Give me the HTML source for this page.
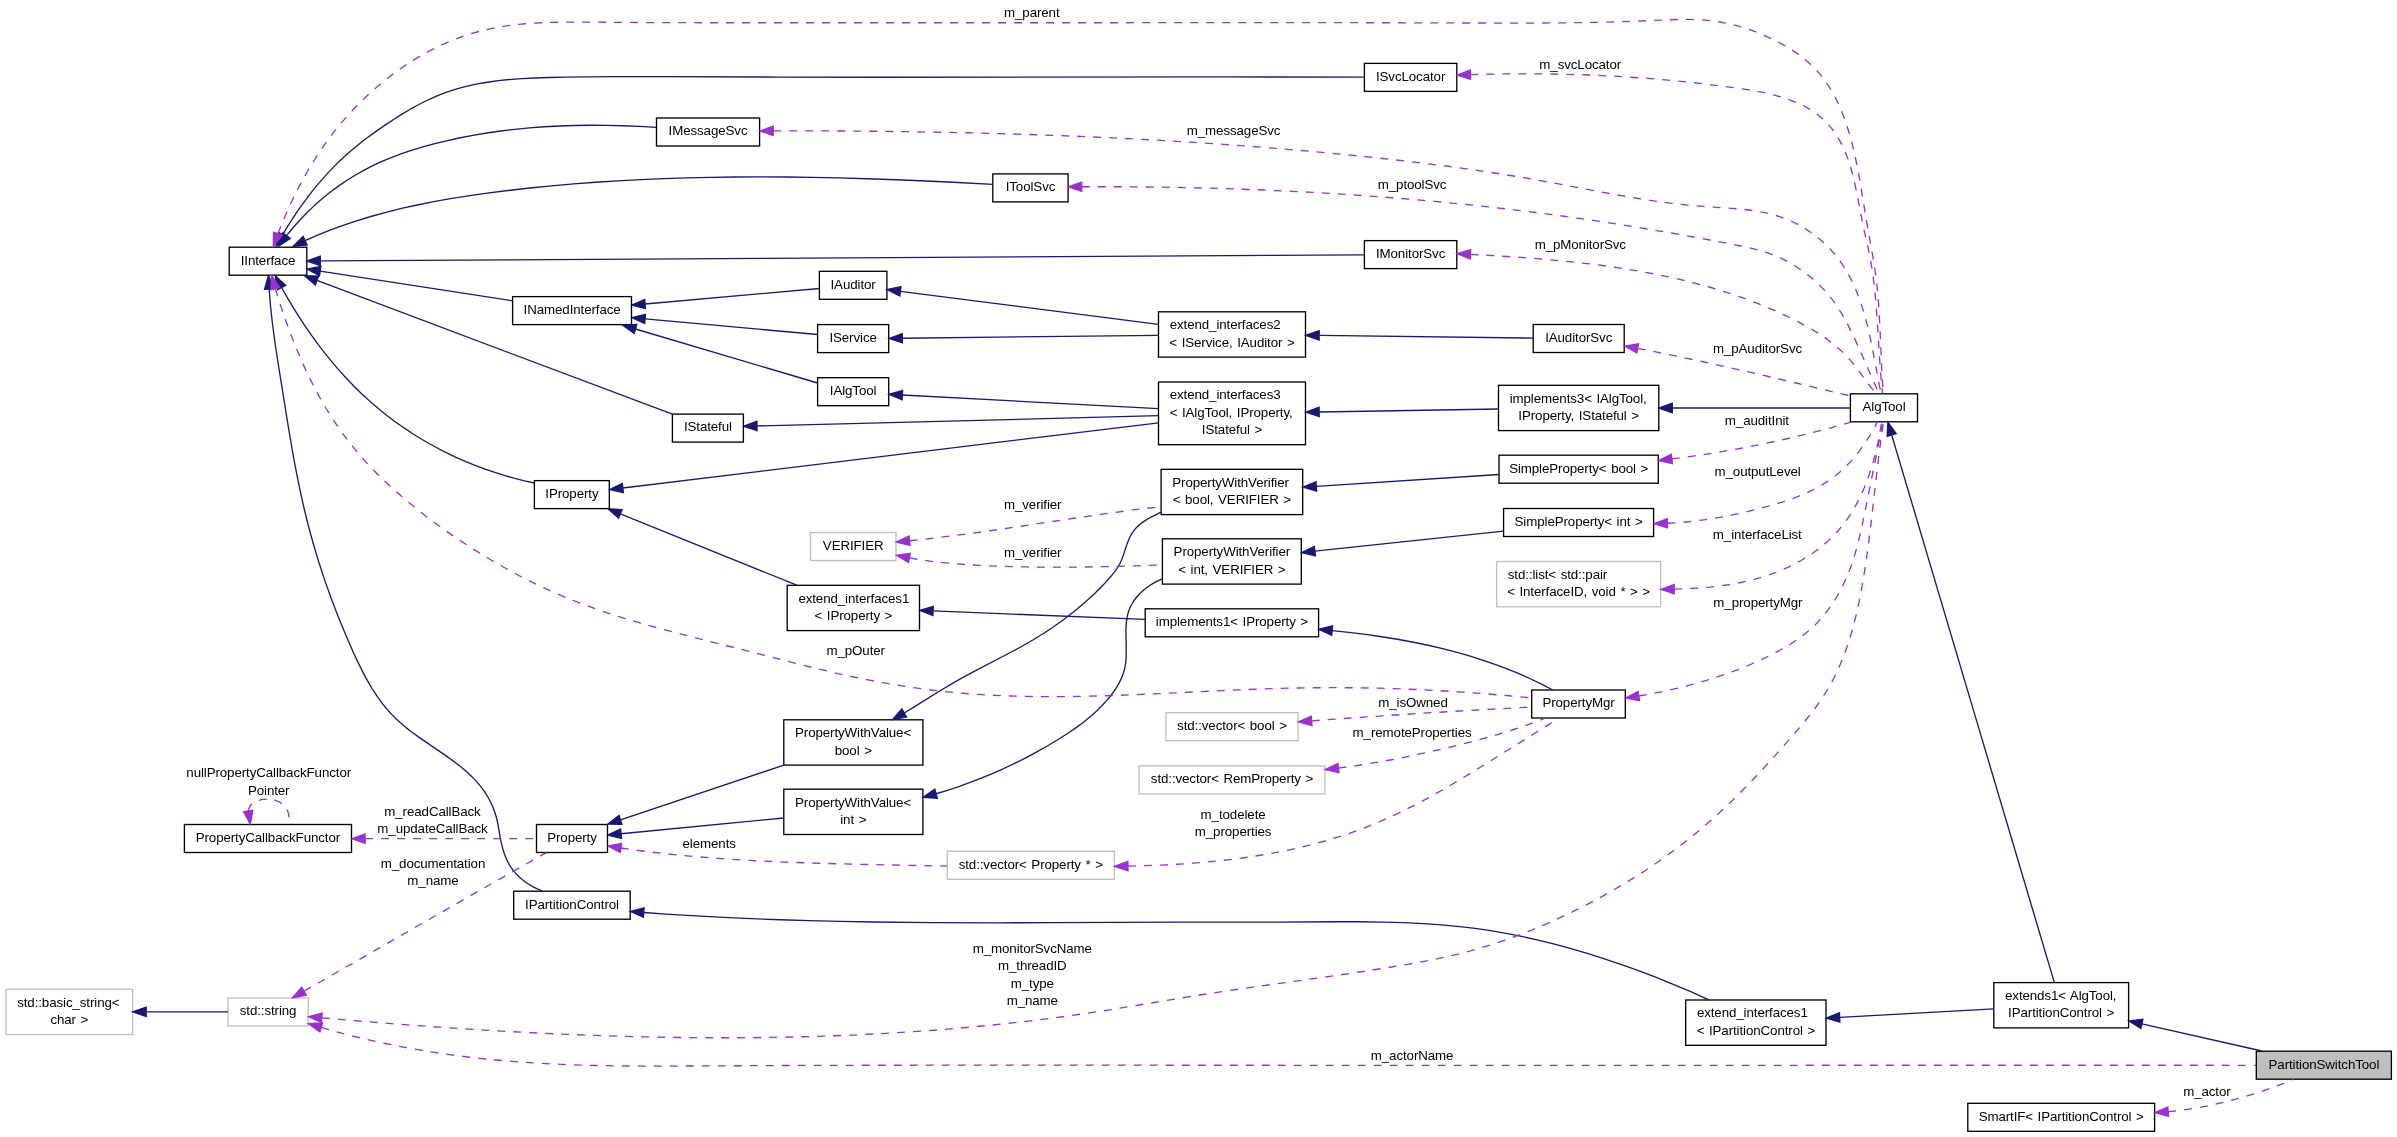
<!DOCTYPE html>
<html><head><meta charset="utf-8"><title>PartitionSwitchTool collaboration graph</title>
<style>html,body{margin:0;padding:0;background:#fff}svg{display:block}text{font-family:"Liberation Sans",sans-serif;font-size:13.333px;fill:#000;letter-spacing:-0.1px;word-spacing:1px}#labels,#nodes{filter:grayscale(1)}</style></head><body>
<svg width="2397" height="1137" viewBox="0 0 2397 1137">
<rect x="0" y="0" width="2397" height="1137" fill="#fff"/>
<g id="nodes">
<rect x="229.2" y="247.2" width="77.6" height="28" fill="#fff" stroke="#000" stroke-width="1.33"/>
<text x="268" y="264.5" text-anchor="middle">IInterface</text>
<rect x="656.5" y="118" width="103.1" height="28" fill="#fff" stroke="#000" stroke-width="1.33"/>
<text x="708" y="135.3" text-anchor="middle">IMessageSvc</text>
<rect x="512.6" y="296.6" width="118.9" height="28" fill="#fff" stroke="#000" stroke-width="1.33"/>
<text x="572.1" y="313.9" text-anchor="middle">INamedInterface</text>
<rect x="1364.4" y="63.4" width="92.4" height="28" fill="#fff" stroke="#000" stroke-width="1.33"/>
<text x="1410.6" y="80.7" text-anchor="middle">ISvcLocator</text>
<rect x="992.8" y="173.9" width="75.3" height="28" fill="#fff" stroke="#000" stroke-width="1.33"/>
<text x="1030.5" y="191.2" text-anchor="middle">IToolSvc</text>
<rect x="1364.4" y="240.6" width="92.4" height="28" fill="#fff" stroke="#000" stroke-width="1.33"/>
<text x="1410.6" y="257.9" text-anchor="middle">IMonitorSvc</text>
<rect x="819.4" y="271.3" width="67.5" height="28" fill="#fff" stroke="#000" stroke-width="1.33"/>
<text x="853.1" y="288.6" text-anchor="middle">IAuditor</text>
<rect x="817.6" y="324.6" width="71.1" height="28" fill="#fff" stroke="#000" stroke-width="1.33"/>
<text x="853.1" y="341.9" text-anchor="middle">IService</text>
<rect x="1158.5" y="311.8" width="147" height="45.3" fill="#fff" stroke="#000" stroke-width="1.33"/>
<text x="1169.7" y="329.1">extend_interfaces2</text>
<text x="1232" y="346.5" text-anchor="middle">&lt; IService, IAuditor &gt;</text>
<rect x="1533.2" y="324.5" width="91" height="28" fill="#fff" stroke="#000" stroke-width="1.33"/>
<text x="1578.7" y="341.8" text-anchor="middle">IAuditorSvc</text>
<rect x="1850.4" y="393.8" width="67.1" height="28" fill="#fff" stroke="#000" stroke-width="1.33"/>
<text x="1884" y="411.1" text-anchor="middle">AlgTool</text>
<rect x="672.4" y="414.1" width="71" height="28" fill="#fff" stroke="#000" stroke-width="1.33"/>
<text x="707.9" y="431.4" text-anchor="middle">IStateful</text>
<rect x="534.4" y="480.6" width="74.9" height="28" fill="#fff" stroke="#000" stroke-width="1.33"/>
<text x="571.9" y="497.9" text-anchor="middle">IProperty</text>
<rect x="817.6" y="377.7" width="71.1" height="28" fill="#fff" stroke="#000" stroke-width="1.33"/>
<text x="853.1" y="395" text-anchor="middle">IAlgTool</text>
<rect x="1158.5" y="382" width="147" height="62.7" fill="#fff" stroke="#000" stroke-width="1.33"/>
<text x="1169.7" y="399.3">extend_interfaces3</text>
<text x="1169.7" y="416.7">&lt; IAlgTool, IProperty,</text>
<text x="1232" y="434" text-anchor="middle"> IStateful &gt;</text>
<rect x="1498.5" y="385.3" width="160.3" height="45.3" fill="#fff" stroke="#000" stroke-width="1.33"/>
<text x="1509.7" y="402.6">implements3&lt; IAlgTool,</text>
<text x="1578.7" y="420" text-anchor="middle"> IProperty, IStateful &gt;</text>
<rect x="1161.1" y="469.3" width="141.6" height="45.3" fill="#fff" stroke="#000" stroke-width="1.33"/>
<text x="1172.3" y="486.6">PropertyWithVerifier</text>
<text x="1231.9" y="504" text-anchor="middle">&lt; bool, VERIFIER &gt;</text>
<rect x="1499" y="455.2" width="159.3" height="28" fill="#fff" stroke="#000" stroke-width="1.33"/>
<text x="1578.7" y="472.5" text-anchor="middle">SimpleProperty&lt; bool &gt;</text>
<rect x="1503.6" y="508.5" width="150" height="28" fill="#fff" stroke="#000" stroke-width="1.33"/>
<text x="1578.6" y="525.8" text-anchor="middle">SimpleProperty&lt; int &gt;</text>
<rect x="810.5" y="532.5" width="85.5" height="28" fill="#fff" stroke="#bfbfbf" stroke-width="1.33"/>
<text x="853.2" y="549.8" text-anchor="middle">VERIFIER</text>
<rect x="1162.4" y="538.8" width="138.9" height="45.3" fill="#fff" stroke="#000" stroke-width="1.33"/>
<text x="1173.6" y="556.1">PropertyWithVerifier</text>
<text x="1231.9" y="573.5" text-anchor="middle">&lt; int, VERIFIER &gt;</text>
<rect x="1496.6" y="561.5" width="164" height="45.3" fill="#fff" stroke="#bfbfbf" stroke-width="1.33"/>
<text x="1507.8" y="578.8">std::list&lt; std::pair</text>
<text x="1578.6" y="596.2" text-anchor="middle">&lt; InterfaceID, void * &gt; &gt;</text>
<rect x="787.2" y="585.3" width="132.3" height="45.3" fill="#fff" stroke="#000" stroke-width="1.33"/>
<text x="798.4" y="602.6">extend_interfaces1</text>
<text x="853.4" y="620" text-anchor="middle">&lt; IProperty &gt;</text>
<rect x="1145.2" y="608.8" width="173.4" height="28" fill="#fff" stroke="#000" stroke-width="1.33"/>
<text x="1231.9" y="626.1" text-anchor="middle">implements1&lt; IProperty &gt;</text>
<rect x="1531.7" y="690" width="93.6" height="28" fill="#fff" stroke="#000" stroke-width="1.33"/>
<text x="1578.5" y="707.3" text-anchor="middle">PropertyMgr</text>
<rect x="1165.9" y="712.6" width="132.2" height="28" fill="#fff" stroke="#bfbfbf" stroke-width="1.33"/>
<text x="1232" y="729.9" text-anchor="middle">std::vector&lt; bool &gt;</text>
<rect x="783.8" y="719.8" width="139.1" height="45.3" fill="#fff" stroke="#000" stroke-width="1.33"/>
<text x="795" y="737.1">PropertyWithValue&lt;</text>
<text x="853.3" y="754.5" text-anchor="middle"> bool &gt;</text>
<rect x="783.8" y="789.2" width="139.1" height="45.3" fill="#fff" stroke="#000" stroke-width="1.33"/>
<text x="795" y="806.5">PropertyWithValue&lt;</text>
<text x="853.3" y="823.9" text-anchor="middle"> int &gt;</text>
<rect x="184.4" y="824.5" width="167.1" height="28" fill="#fff" stroke="#000" stroke-width="1.33"/>
<text x="267.9" y="841.8" text-anchor="middle">PropertyCallbackFunctor</text>
<rect x="536.5" y="824.5" width="71" height="28" fill="#fff" stroke="#000" stroke-width="1.33"/>
<text x="572" y="841.8" text-anchor="middle">Property</text>
<rect x="513.7" y="891.2" width="116.5" height="28" fill="#fff" stroke="#000" stroke-width="1.33"/>
<text x="572" y="908.5" text-anchor="middle">IPartitionControl</text>
<rect x="6" y="989.3" width="126.6" height="45.3" fill="#fff" stroke="#bfbfbf" stroke-width="1.33"/>
<text x="17.2" y="1006.6">std::basic_string&lt;</text>
<text x="69.3" y="1024" text-anchor="middle"> char &gt;</text>
<rect x="228" y="998" width="80.2" height="28" fill="#fff" stroke="#bfbfbf" stroke-width="1.33"/>
<text x="268.1" y="1015.3" text-anchor="middle">std::string</text>
<rect x="1139.1" y="765.9" width="185.8" height="28" fill="#fff" stroke="#bfbfbf" stroke-width="1.33"/>
<text x="1232" y="783.2" text-anchor="middle">std::vector&lt; RemProperty &gt;</text>
<rect x="947.2" y="851.3" width="167.1" height="28" fill="#fff" stroke="#bfbfbf" stroke-width="1.33"/>
<text x="1030.8" y="868.6" text-anchor="middle">std::vector&lt; Property * &gt;</text>
<rect x="1685.7" y="1000" width="140.3" height="45.3" fill="#fff" stroke="#000" stroke-width="1.33"/>
<text x="1696.9" y="1017.3">extend_interfaces1</text>
<text x="1755.9" y="1034.7" text-anchor="middle">&lt; IPartitionControl &gt;</text>
<rect x="1993.8" y="982.6" width="134.8" height="45.3" fill="#fff" stroke="#000" stroke-width="1.33"/>
<text x="2005" y="999.9">extends1&lt; AlgTool,</text>
<text x="2061.2" y="1017.3" text-anchor="middle"> IPartitionControl &gt;</text>
<rect x="2256.3" y="1051.2" width="135.1" height="28" fill="#bfbfbf" stroke="#000" stroke-width="1.33"/>
<text x="2323.9" y="1068.5" text-anchor="middle">PartitionSwitchTool</text>
<rect x="1967.8" y="1103.3" width="186.8" height="28" fill="#fff" stroke="#000" stroke-width="1.33"/>
<text x="2061.2" y="1120.6" text-anchor="middle">SmartIF&lt; IPartitionControl &gt;</text>
</g><g id="edges">
<path d="M282.6,234.71L287.01,227.38L291.84,219.76L296.85,212.23L302.05,204.82L307.42,197.53L312.36,191.17L317.43,184.93L322.65,178.84L328.01,172.9L333.51,167.11L339.14,161.5L344.19,156.75L350.09,151.48L356.13,146.4L362.31,141.48L368.64,136.7L376.72,130.89L385.83,124.6L394.29,119.01L402.04,114.13L409.92,109.45L417.03,105.5L424.22,101.77L431.51,98.31L438.89,95.15L445.41,92.66L451.99,90.41L459.58,88.14L467.23,86.16L474.95,84.44L482.72,82.97L490.55,81.72L500.39,80.45L511.29,79.38L522.24,78.58L534.24,77.98L548.28,77.51L566.34,77.14L612.44,76.63L660.46,76.58L780.4,77.1L878.37,77.28L1225.42,76.95L1364.4,77.1" fill="none" stroke="#191970" stroke-width="1.33" stroke-linejoin="round"/>
<polygon points="276,246.3 286.7,237 278.5,232.4" fill="#191970" stroke="#191970" stroke-width="1.33"/>
<path d="M286.52,235.65L292.79,228.01L299.47,220.49L307.14,212.54L314.38,205.62L322.64,198.35L330.41,192.07L338.42,186.12L346.65,180.5L355.1,175.23L363.76,170.31L371.72,166.19L380.75,161.97L389.95,158.09L400.23,154.19L410.66,150.64L421.2,147.4L433.77,143.93L446.42,140.81L459.14,138L472.9,135.32L486.73,133L500.61,131L514.53,129.33L529.49,127.88L544.48,126.76L559.5,125.97L574.53,125.47L590.57,125.26L606.6,125.35L622.6,125.74L639.58,126.43L656.5,127.4" fill="none" stroke="#191970" stroke-width="1.33" stroke-linejoin="round"/>
<polygon points="278.5,246.3 290.3,238.5 282.8,232.8" fill="#191970" stroke="#191970" stroke-width="1.33"/>
<path d="M305.14,240.68L316.93,235.48L329.95,230.23L343.09,225.38L357.29,220.62L371.6,216.26L386.03,212.29L401.52,208.45L417.11,204.98L433.76,201.66L450.49,198.68L468.28,195.85L487.11,193.18L507.97,190.52L529.86,188.03L551.77,185.83L573.7,183.89L595.66,182.22L617.64,180.8L640.63,179.57L663.65,178.59L686.67,177.84L710.71,177.3L735.75,176.99L760.8,176.9L785.86,177.03L811.9,177.38L838.95,177.95L866.98,178.75L895.99,179.77L925.97,181.01L957.92,182.5L992.8,184.3" fill="none" stroke="#191970" stroke-width="1.33" stroke-linejoin="round"/>
<polygon points="293.1,246.4 307.1,244.9 303.1,236.5" fill="#191970" stroke="#191970" stroke-width="1.33"/>
<path d="M320.33,260.92L1364.4,254.8" fill="none" stroke="#191970" stroke-width="1.33" stroke-linejoin="round"/>
<polygon points="307,261 320.4,265.6 320.3,256.3" fill="#191970" stroke="#191970" stroke-width="1.33"/>
<path d="M320.18,271.04L512.6,300.8" fill="none" stroke="#191970" stroke-width="1.33" stroke-linejoin="round"/>
<polygon points="307,269 319.5,275.7 320.9,266.4" fill="#191970" stroke="#191970" stroke-width="1.33"/>
<path d="M316.98,280.49L672.4,414.2" fill="none" stroke="#191970" stroke-width="1.33" stroke-linejoin="round"/>
<polygon points="304.5,275.8 315.3,284.9 318.6,276.1" fill="#191970" stroke="#191970" stroke-width="1.33"/>
<path d="M281.56,287.52L287.31,297.63L292.97,307.1L299.37,317.31L305.46,326.54L311.76,335.64L318.28,344.58L325.01,353.36L331.32,361.17L337.82,368.82L344.51,376.29L351.39,383.58L358.46,390.66L365.73,397.53L372.44,403.53L380.08,409.97L387.9,416.18L395.9,422.17L404.07,427.92L412.41,433.44L420.9,438.71L429.54,443.75L438.32,448.54L447.24,453.09L457.2,457.81L466.38,461.83L475.67,465.6L485.07,469.12L495.52,472.69L505.12,475.66L514.81,478.38L524.57,480.82L534.4,483" fill="none" stroke="#191970" stroke-width="1.33" stroke-linejoin="round"/>
<polygon points="275.2,275.8 277.5,289.7 285.7,285.3" fill="#191970" stroke="#191970" stroke-width="1.33"/>
<path d="M269.17,289.12L269.71,296.89L270.5,305.87L272.46,323.75L275.12,343.53L278.74,367.21L287.63,422.6L292.69,452.29L295.4,467.09L298.1,480.86L300.76,493.61L303.59,506.3L308.1,524.74L313.07,543.03L318.5,561.18L324.7,580.15L331.06,598.04L338.23,616.76L345.88,635.35L353.59,652.92L358.73,663.9L363.26,672.91L367.57,680.86L372.15,688.61L377.03,696.11L381.67,702.54L386.6,708.72L391.87,714.61L396.06,718.82L400.44,722.85L405.79,727.36L411.32,731.69L421.99,739.4L448.03,757.17L454.55,761.91L460.86,766.82L466.91,771.95L471.94,776.66L476.67,781.62L480.45,786.1L484.52,791.62L488.18,797.49L490.07,801L491.38,803.71L492.99,807.41L494.09,810.23L495.99,816L497.26,820.9L498.24,825.85L500.62,839.77L501.7,844.66L502.7,848.52L504.18,853.25L505.57,856.94L507.58,861.41L509.45,864.87L512.15,869L515.27,872.91L518.82,876.56L522.72,879.94L526.9,883.03L532.19,886.31L536.75,888.66L542.3,891" fill="none" stroke="#191970" stroke-width="1.33" stroke-linejoin="round"/>
<polygon points="268.5,275.8 264.5,289.4 273.8,288.9" fill="#191970" stroke="#191970" stroke-width="1.33"/>
<path d="M645.08,304.02L819.4,288.5" fill="none" stroke="#191970" stroke-width="1.33" stroke-linejoin="round"/>
<polygon points="631.8,305.2 645.5,308.7 644.7,299.4" fill="#191970" stroke="#191970" stroke-width="1.33"/>
<path d="M645.08,318.9L817.6,334.5" fill="none" stroke="#191970" stroke-width="1.33" stroke-linejoin="round"/>
<polygon points="631.8,317.7 644.7,323.5 645.5,314.3" fill="#191970" stroke="#191970" stroke-width="1.33"/>
<path d="M635.48,328.99L817.6,383" fill="none" stroke="#191970" stroke-width="1.33" stroke-linejoin="round"/>
<polygon points="622.7,325.2 634.2,333.5 636.8,324.5" fill="#191970" stroke="#191970" stroke-width="1.33"/>
<path d="M900.42,291.3L1158.5,324.4" fill="none" stroke="#191970" stroke-width="1.33" stroke-linejoin="round"/>
<polygon points="887.2,289.6 899.8,295.9 901,286.7" fill="#191970" stroke="#191970" stroke-width="1.33"/>
<path d="M902.33,338.25L1158.5,335.3" fill="none" stroke="#191970" stroke-width="1.33" stroke-linejoin="round"/>
<polygon points="889,338.4 902.4,342.9 902.3,333.6" fill="#191970" stroke="#191970" stroke-width="1.33"/>
<path d="M1319.13,335.46L1533.2,338.1" fill="none" stroke="#191970" stroke-width="1.33" stroke-linejoin="round"/>
<polygon points="1305.8,335.3 1319.1,340.1 1319.2,330.8" fill="#191970" stroke="#191970" stroke-width="1.33"/>
<path d="M902.31,395.01L1158.5,408.7" fill="none" stroke="#191970" stroke-width="1.33" stroke-linejoin="round"/>
<polygon points="889,394.3 902.1,399.7 902.6,390.4" fill="#191970" stroke="#191970" stroke-width="1.33"/>
<path d="M757.03,425.96L1158.5,415.7" fill="none" stroke="#191970" stroke-width="1.33" stroke-linejoin="round"/>
<polygon points="743.7,426.3 757.1,430.6 756.9,421.3" fill="#191970" stroke="#191970" stroke-width="1.33"/>
<path d="M622.84,487.99L1158.5,422.8" fill="none" stroke="#191970" stroke-width="1.33" stroke-linejoin="round"/>
<polygon points="609.6,489.6 623.4,492.6 622.3,483.4" fill="#191970" stroke="#191970" stroke-width="1.33"/>
<path d="M1319.13,411.98L1498.5,409" fill="none" stroke="#191970" stroke-width="1.33" stroke-linejoin="round"/>
<polygon points="1305.8,412.2 1319.2,416.6 1319.1,407.3" fill="#191970" stroke="#191970" stroke-width="1.33"/>
<path d="M1672.33,408L1850.4,408" fill="none" stroke="#191970" stroke-width="1.33" stroke-linejoin="round"/>
<polygon points="1659,408 1672.3,412.7 1672.3,403.3" fill="#191970" stroke="#191970" stroke-width="1.33"/>
<path d="M1316.31,486.34L1499,474.5" fill="none" stroke="#191970" stroke-width="1.33" stroke-linejoin="round"/>
<polygon points="1303,487.2 1316.6,491 1316,481.7" fill="#191970" stroke="#191970" stroke-width="1.33"/>
<path d="M1314.86,551.19L1503.6,531.1" fill="none" stroke="#191970" stroke-width="1.33" stroke-linejoin="round"/>
<polygon points="1301.6,552.6 1315.4,555.8 1314.4,546.5" fill="#191970" stroke="#191970" stroke-width="1.33"/>
<path d="M620.36,513.8L796.7,585.2" fill="none" stroke="#191970" stroke-width="1.33" stroke-linejoin="round"/>
<polygon points="608,508.8 618.6,518.1 622.1,509.5" fill="#191970" stroke="#191970" stroke-width="1.33"/>
<path d="M933.12,610.93L1145.2,619.4" fill="none" stroke="#191970" stroke-width="1.33" stroke-linejoin="round"/>
<polygon points="919.8,610.4 932.9,615.6 933.3,606.3" fill="#191970" stroke="#191970" stroke-width="1.33"/>
<path d="M1332.17,630.57L1348.75,632.36L1365.65,634.46L1381.54,636.72L1397.38,639.28L1412.17,641.99L1426.89,645.01L1441.53,648.38L1455.09,651.85L1468.56,655.65L1480.96,659.51L1494.2,664.03L1506.37,668.57L1518.42,673.47L1530.32,678.75L1542.08,684.41L1552.8,690" fill="none" stroke="#191970" stroke-width="1.33" stroke-linejoin="round"/>
<polygon points="1318.9,629.3 1331.7,635.2 1332.6,625.9" fill="#191970" stroke="#191970" stroke-width="1.33"/>
<path d="M904.19,713L914.21,706.92L940.46,690.46L954.24,682.33L962.12,677.94L971.84,672.71L1012.75,651.27L1023.27,645.49L1032.79,640L1042.99,633.74L1052.14,627.72L1061.09,621.42L1069.85,614.82L1076.88,609.19L1083.01,604.02L1089.78,597.99L1095.68,592.46L1101.45,586.74L1106.31,581.59L1110.96,576.3L1114.71,571.64L1117.01,568.43L1118.59,565.94L1120.01,563.35L1121.26,560.67L1123.04,556.04L1127.15,543.66L1128.6,539.96L1129.84,537.26L1131.23,534.66L1132.77,532.18L1134.51,529.82L1135.78,528.32L1137.85,526.21L1140.1,524.23L1142.5,522.39L1145.89,520.11L1148.53,518.53L1152.12,516.56L1161.1,512.2" fill="none" stroke="#191970" stroke-width="1.33" stroke-linejoin="round"/>
<polygon points="892.6,719.6 906.5,717.1 901.9,708.9" fill="#191970" stroke="#191970" stroke-width="1.33"/>
<path d="M936.05,793.74L947.4,790.3L958.81,786.53L970.09,782.49L981.26,778.18L992.31,773.61L1003.25,768.77L1014.08,763.67L1024.8,758.3L1035.42,752.66L1046.82,746.26L1058.11,739.54L1067.51,733.56L1075.86,727.85L1083.15,722.44L1090.18,716.74L1096.9,710.71L1101.88,705.77L1105.96,701.36L1110.47,695.98L1114.07,691.16L1117.34,686.16L1119.75,681.84L1121.83,677.39L1123.52,672.8L1124.33,669.98L1125.16,666.15L1125.73,662.23L1126.07,658.26L1126.26,650.17L1125.93,630.77L1126.1,625.76L1126.43,621.82L1127.15,616.99L1128.04,613.22L1129.24,609.56L1130.8,606.02L1133.22,601.76L1136.13,597.74L1139.46,593.96L1143.16,590.45L1147.17,587.25L1149.7,585.48L1152.32,583.83L1156.82,581.36L1159.59,580.06L1162.4,578.9" fill="none" stroke="#191970" stroke-width="1.33" stroke-linejoin="round"/>
<polygon points="923.2,797.3 937.3,798.2 934.8,789.2" fill="#191970" stroke="#191970" stroke-width="1.33"/>
<path d="M620.45,819.78L783.8,765.2" fill="none" stroke="#191970" stroke-width="1.33" stroke-linejoin="round"/>
<polygon points="607.8,824 621.9,824.2 619,815.3" fill="#191970" stroke="#191970" stroke-width="1.33"/>
<path d="M621.07,833.72L783.8,818" fill="none" stroke="#191970" stroke-width="1.33" stroke-linejoin="round"/>
<polygon points="607.8,835 621.5,838.4 620.6,829.1" fill="#191970" stroke="#191970" stroke-width="1.33"/>
<path d="M643.79,912.51L669.43,914.3L696.4,915.95L723.37,917.38L751.35,918.64L780.33,919.74L809.32,920.64L840.31,921.4L872.31,921.98L932.33,922.63L999.36,922.81L1052.39,922.69L1177.45,922.16L1273.49,922.04L1336.58,921.75L1358.61,921.76L1382.63,922.04L1403.61,922.62L1423.56,923.57L1441.47,924.82L1457.36,926.29L1473.21,928.16L1489.02,930.44L1504.78,933.12L1520.48,936.18L1537.1,939.84L1553.64,943.89L1570.1,948.31L1586.47,953.09L1603.7,958.52L1620.81,964.31L1637.8,970.43L1655.6,977.22L1673.23,984.33L1690.7,991.73L1708.9,999.8" fill="none" stroke="#191970" stroke-width="1.33" stroke-linejoin="round"/>
<polygon points="630.5,911.5 643.4,917.2 644.1,907.9" fill="#191970" stroke="#191970" stroke-width="1.33"/>
<path d="M1839.61,1017.37L1993.8,1008.9" fill="none" stroke="#191970" stroke-width="1.33" stroke-linejoin="round"/>
<polygon points="1826.3,1018.1 1839.9,1022 1839.4,1012.7" fill="#191970" stroke="#191970" stroke-width="1.33"/>
<path d="M1891.7,434.98L2054.3,982.4" fill="none" stroke="#191970" stroke-width="1.33" stroke-linejoin="round"/>
<polygon points="1887.9,422.2 1887.2,436.3 1896.2,433.7" fill="#191970" stroke="#191970" stroke-width="1.33"/>
<path d="M2141.9,1023.84L2261.9,1051" fill="none" stroke="#191970" stroke-width="1.33" stroke-linejoin="round"/>
<polygon points="2128.9,1020.9 2140.9,1028.4 2142.9,1019.3" fill="#191970" stroke="#191970" stroke-width="1.33"/>
<path d="M146.23,1011.8L228,1011.8" fill="none" stroke="#191970" stroke-width="1.33" stroke-linejoin="round"/>
<polygon points="132.9,1011.8 146.2,1016.5 146.2,1007.1" fill="#191970" stroke="#191970" stroke-width="1.33"/>
<path d="M277.93,233.8L281.95,223.6L286.65,212.5L291.61,201.57L296.41,191.72L301.45,182.02L306.75,172.49L312.32,163.14L317.62,154.79L323.72,145.77L329.53,137.74L335.6,129.87L341.92,122.17L348.52,114.64L355.38,107.28L362.49,100.13L369.84,93.2L377.43,86.5L385.23,80.05L393.25,73.87L401.46,67.98L409.87,62.38L418.45,57.11L427.2,52.17L435.21,48.02L444.25,43.77L452.5,40.26L460.86,37.08L469.31,34.24L477.85,31.75L486.48,29.61L495.17,27.8L504.91,26.15L511.77,25.2L518.67,24.4L525.59,23.75L533.54,23.16L549.52,22.41L568.61,22.08L583.72,22.1L646.08,22.56L701.12,22.72L1048.99,22.75L1303,22.63L1382.98,22.74L1520.99,23.13L1563.01,22.88L1600.03,22.27L1630.06,21.4L1668.1,19.8L1680.09,19.46L1688.07,19.43L1695.03,19.58L1701.98,19.93L1707.92,20.43L1712.85,20.99L1717.78,21.69L1722.68,22.53L1728.55,23.72L1733.41,24.87L1739.21,26.41L1744.02,27.84L1749.76,29.73L1754.5,31.43L1760.14,33.65L1765.74,36.03L1771.27,38.58L1776.75,41.3L1781.25,43.69L1786.57,46.71L1790.91,49.37L1795.16,52.15L1799.29,55.06L1803.3,58.1L1806.41,60.64L1810.16,63.93L1813.04,66.67L1815.82,69.5L1818.47,72.43L1821.01,75.44L1824.04,79.33L1826.33,82.53L1829.06,86.64L1831.13,90.01L1833.58,94.3L1835.89,98.7L1838.07,103.17L1840.51,108.64L1842.78,114.21L1844.89,119.85L1847.15,126.51L1849.23,133.24L1851.14,140L1853.14,147.78L1854.96,155.59L1857.42,167.37L1859.79,180.19L1867.1,224.7L1872.57,255.16L1874.55,266.95L1875.83,275.83L1877.01,285.72L1877.97,295.66L1878.75,305.63L1879.88,325.62L1881.85,371.68L1882.55,383.65L1883.3,393.6" fill="none" stroke="#9a32cd" stroke-width="1.33" stroke-linejoin="round" stroke-dasharray="8,8"/>
<polygon points="273.3,246.3 282.3,235.4 273.5,232.2" fill="#9a32cd" stroke="#9a32cd" stroke-width="1.33"/>
<path d="M1470.43,74.64L1500.25,73.95L1530.26,73.77L1560.21,74.12L1589.11,74.99L1618,76.39L1645.89,78.25L1660.84,79.47L1674.79,80.74L1702.73,83.69L1727.72,86.8L1747.71,89.67L1755.67,91.02L1762.6,92.36L1769.47,93.88L1775.31,95.35L1782.05,97.29L1787.75,99.17L1793.38,101.27L1798.93,103.61L1804.36,106.22L1808.76,108.61L1813.84,111.78L1817.88,114.67L1820.96,117.16L1823.9,119.81L1826.69,122.62L1829.97,126.34L1832.44,129.45L1835.32,133.5L1837.47,136.85L1839.97,141.14L1842.26,145.55L1844.36,150.05L1846.28,154.63L1848.03,159.29L1849.63,164.02L1851.38,169.77L1852.95,175.6L1854.39,181.49L1857.12,194.39L1863.17,226.19L1868.16,248.4L1869.78,256.11L1871.53,265.84L1873.13,276.65L1874.66,289.54L1876.04,304.52L1877.2,320.59L1880.1,366.83L1881.25,380.77L1882.6,393.6" fill="none" stroke="#9a32cd" stroke-width="1.33" stroke-linejoin="round" stroke-dasharray="8,8"/>
<polygon points="1457.1,75.1 1470.6,79.3 1470.3,70" fill="#9a32cd" stroke="#9a32cd" stroke-width="1.33"/>
<path d="M773.23,130.86L809.92,130.86L844.93,131.01L878.94,131.29L912.93,131.73L945.92,132.3L978.91,133.04L1010.89,133.92L1042.86,134.96L1073.83,136.14L1104.79,137.49L1134.74,138.96L1164.69,140.61L1194.63,142.43L1223.57,144.37L1252.5,146.49L1281.42,148.8L1327.28,152.85L1370.13,157.1L1409.94,161.55L1447.67,166.28L1466.49,168.85L1485.29,171.58L1504.04,174.47L1521.77,177.37L1551.24,182.55L1599.22,191.6L1617.86,195.02L1636.55,198.22L1653.35,200.84L1672.22,203.39L1690.23,205.35L1703.33,206.44L1731.64,208.33L1743.67,209.42L1750.62,210.26L1756.54,211.14L1762.39,212.19L1768.19,213.43L1773.91,214.9L1779.56,216.61L1785.13,218.6L1790.6,220.88L1795.96,223.44L1801.2,226.27L1806.31,229.37L1811.28,232.71L1816.08,236.29L1821.47,240.76L1825.88,244.82L1830.1,249.09L1834.1,253.55L1837.87,258.2L1841.4,263.02L1844.69,268L1847.75,273.13L1850.59,278.4L1853.23,283.79L1855.68,289.3L1857.94,294.91L1860.38,301.57L1862.3,307.36L1864.36,314.2L1867.76,327.07L1870.91,341.07L1873.31,353.06L1878.58,381.43L1881,393.6" fill="none" stroke="#9a32cd" stroke-width="1.33" stroke-linejoin="round" stroke-dasharray="8,8"/>
<polygon points="759.9,130.9 773.2,135.5 773.2,126.2" fill="#9a32cd" stroke="#9a32cd" stroke-width="1.33"/>
<path d="M1081.73,186.73L1128.41,186.79L1174.44,187.36L1219.48,188.43L1263.51,189.99L1307.52,192.09L1350.5,194.68L1392.44,197.74L1434.32,201.34L1475.16,205.41L1496.04,207.71L1515.92,210.04L1535.77,212.5L1555.61,215.1L1575.42,217.85L1596.21,220.87L1617.97,224.2L1639.7,227.69L1661.42,231.33L1684.11,235.3L1709.73,239.99L1735.34,244.88L1747.11,247.3L1755.86,249.39L1761.63,250.97L1766.39,252.45L1771.1,254.09L1775.74,255.91L1780.32,257.92L1784.82,260.12L1789.25,262.48L1794.45,265.55L1798.69,268.27L1803.65,271.74L1808.47,275.4L1812.37,278.6L1816.89,282.61L1820.52,286.09L1824.69,290.43L1828,294.18L1832.98,300.43L1835.31,303.67L1838.09,307.8L1840.74,312.03L1843.27,316.34L1848.03,325.14L1852.91,335.04L1858.4,346.88L1879,393.6" fill="none" stroke="#9a32cd" stroke-width="1.33" stroke-linejoin="round" stroke-dasharray="8,8"/>
<polygon points="1068.4,186.8 1081.8,191.4 1081.7,182.1" fill="#9a32cd" stroke="#9a32cd" stroke-width="1.33"/>
<path d="M1470.41,254.32L1494.77,255.73L1516.72,257.16L1536.74,258.66L1555.77,260.31L1573.81,262.1L1590.82,264.04L1606.8,266.11L1622.74,268.43L1638.61,271.04L1653.43,273.77L1668.17,276.79L1681.85,279.89L1696.41,283.53L1709.9,287.25L1723.28,291.29L1735.61,295.34L1748.76,300.05L1760.86,304.76L1773.75,310.2L1785.58,315.61L1797.28,321.38L1807.9,327.08L1816.54,332.18L1824.89,337.66L1831.33,342.38L1837.49,347.42L1842.64,352.13L1847.52,357.14L1851.5,361.67L1855.93,367.17L1869.84,385.79L1876,393.6" fill="none" stroke="#9a32cd" stroke-width="1.33" stroke-linejoin="round" stroke-dasharray="8,8"/>
<polygon points="1457.1,253.6 1470.2,259 1470.7,249.7" fill="#9a32cd" stroke="#9a32cd" stroke-width="1.33"/>
<path d="M1637.61,348.43L1658.94,352.56L1680.54,356.95L1703.08,361.73L1727.53,367.11L1751.96,372.65L1779.28,379.01L1850.4,396" fill="none" stroke="#9a32cd" stroke-width="1.33" stroke-linejoin="round" stroke-dasharray="8,8"/>
<polygon points="1624.5,346 1636.8,353 1638.5,343.8" fill="#9a32cd" stroke="#9a32cd" stroke-width="1.33"/>
<path d="M1671.84,458.95L1694.4,455.95L1717.19,452.45L1739.9,448.48L1763.51,443.86L1787.03,438.75L1809.45,433.41L1830.79,427.85L1852,421.8" fill="none" stroke="#9a32cd" stroke-width="1.33" stroke-linejoin="round" stroke-dasharray="8,8"/>
<polygon points="1658.6,460.5 1672.4,463.6 1671.3,454.3" fill="#9a32cd" stroke="#9a32cd" stroke-width="1.33"/>
<path d="M1667.33,523.27L1676.08,522.76L1685.07,522.03L1694.02,521.09L1703.94,519.82L1712.83,518.49L1722.69,516.8L1731.54,515.09L1741.36,513L1752.12,510.46L1762.87,507.7L1773.59,504.72L1782.31,502.07L1789.98,499.5L1797.54,496.7L1804.05,494.02L1810.43,491.1L1815.78,488.38L1821,485.46L1826.08,482.33L1831.01,478.98L1835.78,475.41L1839.61,472.26L1843.32,468.94L1847.59,464.75L1851.68,460.37L1855.6,455.79L1859.33,451.05L1863.48,445.33L1866.85,440.29L1870.58,434.27L1874.09,428.13L1877.4,421.9" fill="none" stroke="#9a32cd" stroke-width="1.33" stroke-linejoin="round" stroke-dasharray="8,8"/>
<polygon points="1654,523.7 1667.5,527.9 1667.2,518.6" fill="#9a32cd" stroke="#9a32cd" stroke-width="1.33"/>
<path d="M1674.23,589.18L1686.73,588.74L1698.77,588.04L1709.83,587.1L1720.88,585.83L1730.87,584.35L1740.81,582.52L1750.66,580.31L1759.44,577.97L1768.1,575.25L1776.64,572.16L1785.02,568.67L1793.2,564.78L1801.14,560.5L1807.99,556.35L1815.4,551.29L1821.71,546.45L1827.73,541.28L1833.44,535.77L1838.81,529.94L1843.21,524.55L1847.91,518.11L1852.26,511.38L1856.28,504.39L1860.42,496.28L1864.16,487.93L1867.54,479.4L1870.55,470.72L1873.23,461.95L1875.83,452.14L1878.05,442.33L1879.92,432.58L1881.6,422" fill="none" stroke="#9a32cd" stroke-width="1.33" stroke-linejoin="round" stroke-dasharray="8,8"/>
<polygon points="1660.9,589.4 1674.3,593.8 1674.2,584.5" fill="#9a32cd" stroke="#9a32cd" stroke-width="1.33"/>
<path d="M1638.78,696L1653.35,693.43L1668.03,690.4L1682.58,686.96L1697.02,683.1L1711.35,678.79L1724.64,674.36L1737.86,669.53L1750.95,664.25L1762.96,658.88L1773.87,653.49L1783.66,648.13L1788.88,645.01L1793.14,642.3L1797.31,639.48L1801.38,636.55L1805.33,633.49L1808.41,630.95L1812.13,627.66L1815,624.93L1817.79,622.11L1821.13,618.47L1826.2,612.39L1831.46,605.2L1835.78,598.53L1840.23,590.76L1844.26,582.73L1847.88,574.48L1851.12,566.05L1853.98,557.49L1856.25,549.78L1858.31,541.99L1860.2,534.14L1862.36,524.28L1877.12,451.53L1880.11,435.82L1882.5,422" fill="none" stroke="#9a32cd" stroke-width="1.33" stroke-linejoin="round" stroke-dasharray="8,8"/>
<polygon points="1625.6,698 1639.5,700.6 1638.1,691.4" fill="#9a32cd" stroke="#9a32cd" stroke-width="1.33"/>
<path d="M321.78,1017.8L365.3,1021.56L408.17,1024.95L449.08,1027.87L490,1030.46L528.94,1032.6L567.9,1034.4L605.88,1035.81L643.87,1036.86L679.88,1037.51L715.89,1037.78L750.9,1037.68L785.9,1037.18L819.9,1036.29L852.88,1035.04L885.84,1033.38L917.79,1031.37L936.74,1029.97L954.69,1028.52L973.62,1026.83L991.54,1025.09L1010.44,1023.09L1028.33,1021.05L1046.21,1018.86L1064.06,1016.52L1086.84,1013.31L1109.58,1009.84L1186.55,997.14L1217.18,992.33L1252.81,987.13L1339.98,974.93L1364.72,971.27L1386.46,967.87L1409.17,964.07L1427.87,960.66L1444.52,957.24L1460.09,953.6L1475.54,949.48L1490.85,944.88L1506.03,939.81L1521.07,934.3L1531.32,930.27L1542.42,925.65L1552.51,921.22L1563.44,916.19L1574.28,910.96L1585.02,905.53L1595.67,899.92L1606.21,894.13L1616.65,888.17L1626.97,882.02L1637.18,875.69L1646.42,869.72L1656.37,863.02L1665.36,856.71L1674.24,850.23L1682.98,843.59L1691.58,836.77L1699.28,830.42L1707.61,823.27L1715.82,815.96L1723.89,808.5L1732.57,800.21L1741.12,791.76L1749.55,783.17L1759.24,772.98L1769.46,761.9L1780.22,749.91L1791.49,737.01L1800.01,727.04L1807.04,718.5L1813.21,710.61L1818.52,703.37L1821.9,698.45L1825.13,693.46L1827.71,689.24L1830.65,684.09L1833.44,678.87L1836.08,673.57L1838.58,668.2L1840.94,662.76L1845.28,651.7L1847.27,646.09L1849.44,639.47L1851.47,632.79L1853.37,626.06L1856.78,612.44L1859.55,599.66L1861.99,586.78L1864.48,571.87L1866.84,555.95L1868.72,542.03L1870.69,526.13L1876.61,474.54L1878.87,455.7L1881.2,437.86L1883.5,422" fill="none" stroke="#9a32cd" stroke-width="1.33" stroke-linejoin="round" stroke-dasharray="8,8"/>
<polygon points="308.5,1016.6 321.4,1022.5 322.2,1013.2" fill="#9a32cd" stroke="#9a32cd" stroke-width="1.33"/>
<path d="M275.28,288.59L280.21,304.26L285.35,319.43L290.87,334.53L296.41,348.56L302.35,362.45L308.27,375.23L314.56,387.8L320.77,399.26L327.33,410.48L333.73,420.61L341.04,431.3L348.16,440.88L355.62,450.19L364.07,459.97L372.88,469.45L382.74,479.33L393.69,489.56L405.76,500.08L418.2,510.22L430.96,520L445.62,530.62L460.56,540.83L475.74,550.65L491.16,560.04L505.95,568.5L520.94,576.55L536.13,584.17L550.61,590.92L565.26,597.27L580.08,603.19L595.06,608.69L611.12,614.13L625.41,618.64L639.78,622.9L655.2,627.24L672.61,631.91L735.75,647.98L794.84,663.18L816.18,668.46L835.64,673.03L851.27,676.48L866.95,679.7L882.7,682.67L897.53,685.2L912.39,687.49L927.28,689.53L942.2,691.29L956.14,692.69L969.09,693.77L982.04,694.67L996,695.43L1009.97,696L1023.94,696.39L1038.92,696.61L1054.9,696.67L1070.89,696.55L1097.89,695.99L1128.9,694.95L1157.92,693.69L1231.99,690.17L1271.01,688.67L1291.02,688.13L1311.02,687.79L1330.01,687.67L1350,687.75L1371.98,688.07L1394.95,688.69L1417.92,689.57L1440.88,690.74L1462.84,692.1L1485.79,693.8L1508.75,695.76L1531.7,698" fill="none" stroke="#9a32cd" stroke-width="1.33" stroke-linejoin="round" stroke-dasharray="8,8"/>
<polygon points="271.5,275.8 270.8,289.9 279.8,287.3" fill="#9a32cd" stroke="#9a32cd" stroke-width="1.33"/>
<path d="M1311.7,720.81L1366.45,716.91L1421.51,713.3L1476.6,710L1531.7,707" fill="none" stroke="#9a32cd" stroke-width="1.33" stroke-linejoin="round" stroke-dasharray="8,8"/>
<polygon points="1298.4,721.8 1312,725.5 1311.3,716.2" fill="#9a32cd" stroke="#9a32cd" stroke-width="1.33"/>
<path d="M1338.44,768.05L1351.04,766.39L1364.9,764.32L1377.74,762.21L1391.53,759.74L1405.28,757.07L1418.99,754.22L1433.65,750.97L1448.27,747.54L1463.82,743.69L1478.36,739.92L1490.91,736.47L1502.43,733.09L1513.89,729.5L1524.32,725.99L1534.67,722.24L1544,718.6" fill="none" stroke="#9a32cd" stroke-width="1.33" stroke-linejoin="round" stroke-dasharray="8,8"/>
<polygon points="1325.2,769.6 1339,772.7 1337.9,763.4" fill="#9a32cd" stroke="#9a32cd" stroke-width="1.33"/>
<path d="M1127.93,866.11L1144.49,865.71L1161.51,865.07L1177.56,864.23L1192.61,863.2L1207.65,861.94L1221.68,860.52L1235.67,858.86L1249.61,856.94L1263.5,854.73L1276.34,852.43L1289.11,849.85L1301.8,847L1314.41,843.86L1325.96,840.69L1337.41,837.24L1348.77,833.52L1359.09,829.86L1368.39,826.3L1377.61,822.54L1387.65,818.17L1397.61,813.56L1407.47,808.75L1418.15,803.28L1428.74,797.6L1447.1,787.26L1467.84,774.93L1487.54,762.79L1534.32,733.49L1547.07,725.66L1559,718.5" fill="none" stroke="#9a32cd" stroke-width="1.33" stroke-linejoin="round" stroke-dasharray="8,8"/>
<polygon points="1114.6,866.3 1128,870.8 1127.9,861.4" fill="#9a32cd" stroke="#9a32cd" stroke-width="1.33"/>
<path d="M620.98,848.02L635.54,850.07L650.44,851.96L666.35,853.78L682.28,855.41L698.22,856.85L715.18,858.2L732.15,859.38L750.14,860.45L785.13,862.11L823.13,863.41L861.15,864.35L947.2,866.1" fill="none" stroke="#9a32cd" stroke-width="1.33" stroke-linejoin="round" stroke-dasharray="8,8"/>
<polygon points="607.8,846 620.3,852.6 621.7,843.4" fill="#9a32cd" stroke="#9a32cd" stroke-width="1.33"/>
<path d="M909.57,540.74L924.19,539.21L939.1,537.5L970.86,533.43L1005.53,528.51L1073.82,518.27L1102.54,514.1L1133.28,509.95L1161.1,506.6" fill="none" stroke="#9a32cd" stroke-width="1.33" stroke-linejoin="round" stroke-dasharray="8,8"/>
<polygon points="896.3,542 910,545.4 909.1,536.1" fill="#9a32cd" stroke="#9a32cd" stroke-width="1.33"/>
<path d="M909.37,557.92L918.98,559.56L929.9,561.13L940.85,562.42L952.84,563.58L964.84,564.5L978.87,565.34L994.92,566.06L1010.97,566.59L1027.01,566.95L1044.06,567.16L1061.11,567.21L1079.16,567.1L1117.27,566.4L1162.4,565" fill="none" stroke="#9a32cd" stroke-width="1.33" stroke-linejoin="round" stroke-dasharray="8,8"/>
<polygon points="896.3,555.3 908.5,562.5 910.3,553.3" fill="#9a32cd" stroke="#9a32cd" stroke-width="1.33"/>
<path d="M365.13,838.7L536.5,838.7" fill="none" stroke="#9a32cd" stroke-width="1.33" stroke-linejoin="round" stroke-dasharray="8,8"/>
<polygon points="351.8,838.7 365.1,843.4 365.1,834" fill="#9a32cd" stroke="#9a32cd" stroke-width="1.33"/>
<path d="M248.17,811.04L248.4,809.97L249.07,808L250.01,806.26L251.18,804.74L252.57,803.42L254.14,802.3L255.87,801.37L257.74,800.62L259.71,800.04L261.77,799.62L263.88,799.35L267.11,799.22L270.33,799.42L272.44,799.72L274.5,800.18L276.48,800.78L278.38,801.53L280.17,802.43L281.82,803.48L283.32,804.68L285.27,806.76L286.34,808.31L287.24,809.98L287.96,811.76L288.48,813.63L288.89,816.59L288.9,818.65L288.71,820.76L288,824" fill="none" stroke="#9a32cd" stroke-width="1.33" stroke-linejoin="round" stroke-dasharray="8,8"/>
<polygon points="250.3,824.2 252.8,810.3 243.6,811.8" fill="#9a32cd" stroke="#9a32cd" stroke-width="1.33"/>
<path d="M303.98,991.18L464.44,899.12L507.95,874.31L546.3,852.6" fill="none" stroke="#9a32cd" stroke-width="1.33" stroke-linejoin="round" stroke-dasharray="8,8"/>
<polygon points="292.4,997.8 306.3,995.2 301.7,987.1" fill="#9a32cd" stroke="#9a32cd" stroke-width="1.33"/>
<path d="M321.27,1027.45L336.5,1031.76L353.01,1036.08L368.59,1039.83L385.2,1043.5L400.89,1046.66L417.59,1049.7L434.35,1052.43L451.14,1054.86L467.97,1057.01L485.83,1058.98L503.72,1060.67L522.63,1062.17L541.57,1063.38L561.53,1064.38L581.51,1065.12L603.5,1065.67L632.52,1066.06L664.55,1066.14L816.69,1065.36L985.77,1065.09L1433.94,1065.39L2019.2,1065.23L2256.3,1065.3" fill="none" stroke="#9a32cd" stroke-width="1.33" stroke-linejoin="round" stroke-dasharray="8,8"/>
<polygon points="308.5,1023.6 319.9,1031.9 322.6,1023" fill="#9a32cd" stroke="#9a32cd" stroke-width="1.33"/>
<path d="M2168.19,1111.68L2174.88,1111L2182.84,1110.03L2190.77,1108.88L2198.68,1107.57L2206.56,1106.1L2214.41,1104.48L2222.23,1102.7L2230.02,1100.78L2237.77,1098.71L2245.48,1096.49L2253.16,1094.14L2261.74,1091.34L2269.31,1088.71L2277.78,1085.6L2285.25,1082.7L2293.6,1079.3" fill="none" stroke="#9a32cd" stroke-width="1.33" stroke-linejoin="round" stroke-dasharray="8,8"/>
<polygon points="2154.9,1112.7 2168.6,1116.3 2167.8,1107" fill="#9a32cd" stroke="#9a32cd" stroke-width="1.33"/>
</g><g id="labels">
<text x="1031.8" y="16.5" text-anchor="middle">m_parent</text>
<text x="1580.2" y="68.8" text-anchor="middle">m_svcLocator</text>
<text x="1233.6" y="134.7" text-anchor="middle">m_messageSvc</text>
<text x="1412.1" y="188.9" text-anchor="middle">m_ptoolSvc</text>
<text x="1580.3" y="249" text-anchor="middle">m_pMonitorSvc</text>
<text x="1757.5" y="352.7" text-anchor="middle">m_pAuditorSvc</text>
<text x="1756.9" y="425" text-anchor="middle">m_auditInit</text>
<text x="1757.6" y="475.7" text-anchor="middle">m_outputLevel</text>
<text x="1757.3" y="538.7" text-anchor="middle">m_interfaceList</text>
<text x="1757.9" y="606.5" text-anchor="middle">m_propertyMgr</text>
<text x="1032.7" y="509" text-anchor="middle">m_verifier</text>
<text x="1032.7" y="557" text-anchor="middle">m_verifier</text>
<text x="855.7" y="655" text-anchor="middle">m_pOuter</text>
<text x="1413" y="706.7" text-anchor="middle">m_isOwned</text>
<text x="1412.1" y="736.6" text-anchor="middle">m_remoteProperties</text>
<text x="1233.1" y="818.8" text-anchor="middle">m_todelete</text>
<text x="1233.1" y="836.1" text-anchor="middle">m_properties</text>
<text x="709.2" y="848" text-anchor="middle">elements</text>
<text x="268.7" y="777.3" text-anchor="middle">nullPropertyCallbackFunctor</text>
<text x="268.7" y="794.6" text-anchor="middle">Pointer</text>
<text x="432.5" y="815.7" text-anchor="middle">m_readCallBack</text>
<text x="432.5" y="833" text-anchor="middle">m_updateCallBack</text>
<text x="433" y="867.9" text-anchor="middle">m_documentation</text>
<text x="433" y="885.2" text-anchor="middle">m_name</text>
<text x="1032.3" y="953" text-anchor="middle">m_monitorSvcName</text>
<text x="1032.3" y="970.3" text-anchor="middle">m_threadID</text>
<text x="1032.3" y="987.7" text-anchor="middle">m_type</text>
<text x="1032.3" y="1005" text-anchor="middle">m_name</text>
<text x="1412.1" y="1060" text-anchor="middle">m_actorName</text>
<text x="2206.9" y="1095.8" text-anchor="middle">m_actor</text>
</g></svg></body></html>
